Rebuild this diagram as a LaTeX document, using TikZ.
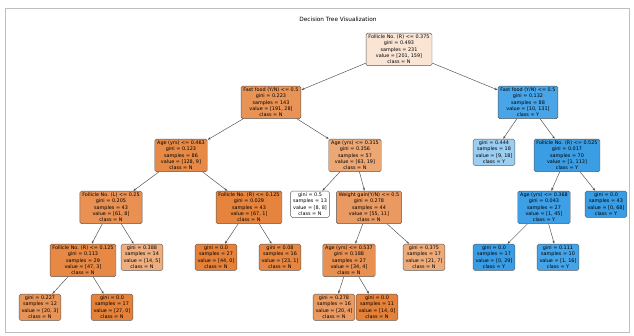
\documentclass[tikz,border=0pt]{standalone}
\usepackage{fontspec}
\usetikzlibrary{arrows.meta}
\newfontfamily\tnff{DejaVu Sans}
\newcommand\tnfont{\tnff\fontsize{4.9}{6.3}\selectfont}
\definecolor{cN}{RGB}{229,129,57}
\definecolor{cY}{RGB}{57,157,229}
\tikzset{
  tn/.style={draw=black!65, rounded corners=1.5pt, align=center, inner xsep=2.4pt, inner ysep=1.7pt, font=\tnfont, anchor=north, line width=0.45pt},
  ed/.style={draw=black!70, -{Stealth[length=3pt,width=2.2pt]}, line width=0.45pt, shorten >=0.3pt},
}
\begin{document}
\begin{tikzpicture}[x=1pt,y=-1pt]
\useasboundingbox (0,0) rectangle (634,336);
\fill[white] (0,0) rectangle (634,336);
\draw[black!25, line width=0.5pt] (5,8) rectangle (629,332);
\node[font=\tnff\fontsize{5.8}{6.5}\selectfont] (title) at (338,19) {Decision Tree Visualization};
% level 0
\node[tn, fill=cN!21] (n0) at (399,33) {Follicle No. (R) <= 0.375\\gini = 0.493\\samples = 231\\value = [201, 159]\\class = N};
% level 1
\node[tn, fill=cN!85] (nL) at (271,86) {Fast food (Y/N) <= 0.5\\gini = 0.223\\samples = 143\\value = [191, 28]\\class = N};
\node[tn, fill=cY!92] (nR) at (528,86) {Fast food (Y/N) <= 0.5\\gini = 0.132\\samples = 88\\value = [10, 131]\\class = Y};
% level 2
\node[tn, fill=cN!93] (nLL) at (181,139) {Age (yrs) <= 0.463\\gini = 0.123\\samples = 86\\value = [128, 9]\\class = N};
\node[tn, fill=cN!70] (nLR) at (355,139) {Age (yrs) <= 0.315\\gini = 0.356\\samples = 57\\value = [63, 19]\\class = N};
\node[tn, fill=cY!50] (nRL) at (494,139) {gini = 0.444\\samples = 18\\value = [9, 18]\\class = Y};
\node[tn, fill=cY!99] (nRR) at (567,139) {Follicle No. (R) <= 0.525\\gini = 0.017\\samples = 70\\value = [1, 113]\\class = Y};
% level 3
\node[tn, fill=cN!87] (nLLL) at (111,191) {Follicle No. (L) <= 0.25\\gini = 0.205\\samples = 43\\value = [61, 8]\\class = N};
\node[tn, fill=cN!98] (nLLR) at (249,191) {Follicle No. (R) <= 0.125\\gini = 0.029\\samples = 43\\value = [67, 1]\\class = N};
\node[tn, fill=white] (nLRL) at (310,191) {gini = 0.5\\samples = 13\\value = [8, 8]\\class = N};
\node[tn, fill=cN!80] (nLRR) at (369,191) {Weight gain(Y/N) <= 0.5\\gini = 0.278\\samples = 44\\value = [55, 11]\\class = N};
\node[tn, fill=cY!98] (nRRL) at (544,191) {Age (yrs) <= 0.368\\gini = 0.043\\samples = 27\\value = [1, 45]\\class = Y};
\node[tn, fill=cY] (nRRR) at (606,191) {gini = 0.0\\samples = 43\\value = [0, 68]\\class = Y};
% level 4
\node[tn, fill=cN!94] (nLLLL) at (83,244) {Follicle No. (R) <= 0.125\\gini = 0.113\\samples = 29\\value = [47, 3]\\class = N};
\node[tn, fill=cN!64] (nLLLR) at (142,244) {gini = 0.388\\samples = 14\\value = [14, 5]\\class = N};
\node[tn, fill=cN] (nLLRL) at (216,244) {gini = 0.0\\samples = 27\\value = [44, 0]\\class = N};
\node[tn, fill=cN!96] (nLLRR) at (280,244) {gini = 0.08\\samples = 16\\value = [23, 1]\\class = N};
\node[tn, fill=cN!88] (nLRRL) at (349,244) {Age (yrs) <= 0.537\\gini = 0.188\\samples = 27\\value = [34, 4]\\class = N};
\node[tn, fill=cN!67] (nLRRR) at (424,244) {gini = 0.375\\samples = 17\\value = [21, 7]\\class = N};
\node[tn, fill=cY] (nRRLL) at (494,244) {gini = 0.0\\samples = 17\\value = [0, 29]\\class = Y};
\node[tn, fill=cY!94] (nRRLR) at (558,244) {gini = 0.111\\samples = 10\\value = [1, 16]\\class = Y};
% level 5
\node[tn, fill=cN!85] (nLLLLL) at (40,294) {gini = 0.227\\samples = 12\\value = [20, 3]\\class = N};
\node[tn, fill=cN] (nLLLLR) at (112,294) {gini = 0.0\\samples = 17\\value = [27, 0]\\class = N};
\node[tn, fill=cN!80] (nLRRLL) at (334,294) {gini = 0.278\\samples = 16\\value = [20, 4]\\class = N};
\node[tn, fill=cN] (nLRRLR) at (377,294) {gini = 0.0\\samples = 11\\value = [14, 0]\\class = N};
% edges
\draw[ed] (n0) -- (nL);
\draw[ed] (n0) -- (nR);
\draw[ed] (nL) -- (nLL);
\draw[ed] (nL) -- (nLR);
\draw[ed] (nR) -- (nRL);
\draw[ed] (nR) -- (nRR);
\draw[ed] (nLL) -- (nLLL);
\draw[ed] (nLL) -- (nLLR);
\draw[ed] (nLR) -- (nLRL);
\draw[ed] (nLR) -- (nLRR);
\draw[ed] (nRR) -- (nRRL);
\draw[ed] (nRR) -- (nRRR);
\draw[ed] (nLLL) -- (nLLLL);
\draw[ed] (nLLL) -- (nLLLR);
\draw[ed] (nLLR) -- (nLLRL);
\draw[ed] (nLLR) -- (nLLRR);
\draw[ed] (nLRR) -- (nLRRL);
\draw[ed] (nLRR) -- (nLRRR);
\draw[ed] (nRRL) -- (nRRLL);
\draw[ed] (nRRL) -- (nRRLR);
\draw[ed] (nLLLL) -- (nLLLLL);
\draw[ed] (nLLLL) -- (nLLLLR);
\draw[ed] (nLRRL) -- (nLRRLL);
\draw[ed] (nLRRL) -- (nLRRLR);
\end{tikzpicture}
\end{document}
